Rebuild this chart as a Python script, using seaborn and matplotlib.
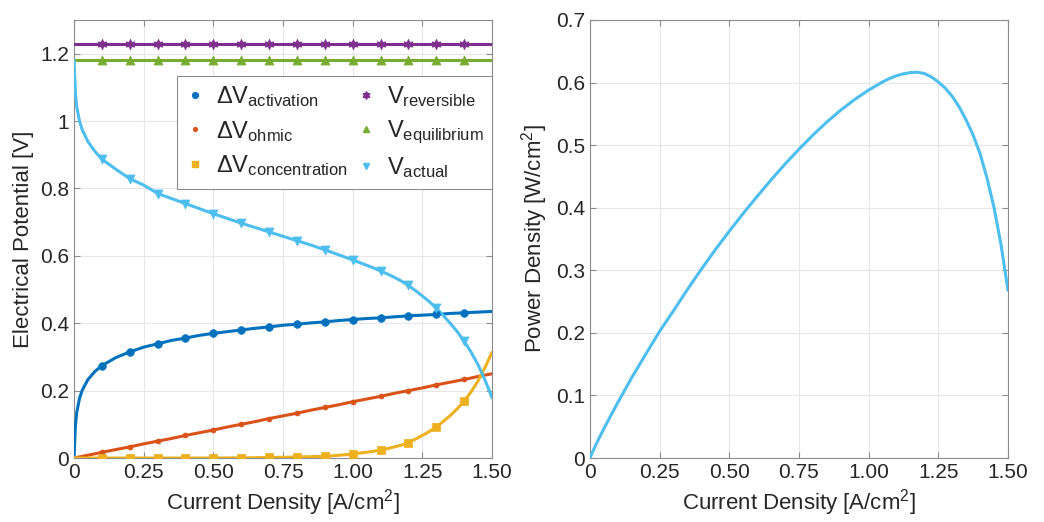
import numpy as np
import pandas as pd
import matplotlib
matplotlib.use("Agg")
import matplotlib.pyplot as plt
from matplotlib.lines import Line2D
import seaborn as sns

# Values
current = [0, 0.002, 0.005, 0.01, 0.02, 0.03, 0.05, 0.075,
           0.1, 0.15, 0.2, 0.25, 0.3, 0.35, 0.4, 0.45, 0.5, 0.55,
           0.6, 0.65, 0.7, 0.75, 0.8, 0.85, 0.9, 0.95, 1.0,
           1.025, 1.05, 1.075, 1.1, 1.125, 1.15, 1.175, 1.2, 1.225, 1.25,
           1.275, 1.3, 1.325, 1.35, 1.375, 1.4, 1.425, 1.45, 1.475, 1.5]
dv_activation = [0, 0.041, 0.096, 0.137, 0.178, 0.202, 0.233, 0.257,
                 0.274, 0.298, 0.315, 0.329, 0.339, 0.349, 0.356, 0.364, 0.370, 0.375,
                 0.380, 0.385, 0.389, 0.394, 0.397, 0.401, 0.404, 0.408, 0.411,
                 0.4125, 0.414, 0.415, 0.416, 0.4175, 0.419, 0.4205, 0.422, 0.423, 0.424,
                 0.425, 0.426, 0.4275, 0.429, 0.430, 0.431, 0.432, 0.433, 0.434, 0.435]
dv_ohmic = [0, 0.0003, 0.0008, 0.0017, 0.0033, 0.005, 0.0083, 0.0125,
            0.017, 0.025, 0.033, 0.042, 0.050, 0.058, 0.067, 0.075, 0.083, 0.092,
            0.100, 0.108, 0.117, 0.125, 0.133, 0.142, 0.150, 0.158, 0.167,
            0.171, 0.175, 0.179, 0.183, 0.1875, 0.192, 0.196, 0.200, 0.204, 0.208,
            0.2125, 0.217, 0.221, 0.225, 0.229, 0.233, 0.2375, 0.242, 0.246, 0.250]
dv_concentration = [0, 0, 0, 0, 0, 0, 0, 0,
                    0, 0, 0, 0, 0, 0, 0, 0, 0, 0.0003,
                    0.0005, 0.001, 0.0015, 0.002, 0.003, 0.004, 0.005, 0.008, 0.012,
                    0.0145, 0.017, 0.020, 0.023, 0.028, 0.033, 0.0385, 0.046, 0.056, 0.067,
                    0.0785, 0.092, 0.1085, 0.126, 0.146, 0.169, 0.1965, 0.229, 0.269, 0.314]
v_actual = [1.18, 1.139, 1.083, 1.041, 0.999, 0.973, 0.939, 0.910,
            0.887, 0.857, 0.829, 0.810, 0.785, 0.770, 0.755, 0.740, 0.725, 0.711,
            0.697, 0.684, 0.671, 0.658, 0.645, 0.632, 0.618, 0.603, 0.588,
            0.580, 0.572, 0.564, 0.555, 0.546, 0.536, 0.525, 0.512, 0.497, 0.481,
            0.464, 0.445, 0.423, 0.400, 0.375, 0.347, 0.314, 0.276, 0.231, 0.179]
power = [0, 0.0023, 0.0054, 0.0104, 0.020, 0.0292, 0.047, 0.068,
         0.0887, 0.1286, 0.1658, 0.2025, 0.2355, 0.2695, 0.302, 0.333, 0.3625, 0.391,
         0.418, 0.4446, 0.4697, 0.4935, 0.516, 0.537, 0.556, 0.573, 0.588,
         0.5945, 0.601, 0.6065, 0.611, 0.614, 0.616, 0.6165, 0.6145, 0.609, 0.601,
         0.591, 0.578, 0.561, 0.540, 0.516, 0.486, 0.447, 0.400, 0.341, 0.268]
v_reversible = 1.23
v_equilibrium = 1.18
marker_x = [0.1, 0.2, 0.3, 0.4, 0.5, 0.6, 0.7, 0.8, 0.9, 1.0, 1.1, 1.2, 1.3, 1.4]

df = pd.DataFrame({"current": current, "act": dv_activation, "ohm": dv_ohmic,
                   "conc": dv_concentration, "actual": v_actual, "power": power})
df["rev"] = v_reversible
df["eq"] = v_equilibrium
marks = df[np.isclose(df["current"].values[:, None], np.array(marker_x)[None, :]).any(axis=1)]

sns.set_style("ticks")
plt.rcParams["font.family"] = ["Liberation Sans", "DejaVu Sans"]
plt.rcParams["mathtext.fontset"] = "custom"
plt.rcParams["mathtext.rm"] = "Liberation Sans"
plt.rcParams["mathtext.it"] = "Liberation Sans"

text_col = "#262626"
edge_col = "#8c8c8c"
# column, legend label, colour, marker, marker size (pt)
series = [
    ("act", r"$\Delta\mathrm{V}_{\mathrm{activation}}$", "#0072BD", "o", 5.5),
    ("ohm", r"$\Delta\mathrm{V}_{\mathrm{ohmic}}$", "#D95319", "o", 3.6),
    ("conc", r"$\Delta\mathrm{V}_{\mathrm{concentration}}$", "#EDB120", "s", 5.2),
    ("rev", r"$\mathrm{V}_{\mathrm{reversible}}$", "#7E2F8E", (6, 1, 0), 7.5),
    ("eq", r"$\mathrm{V}_{\mathrm{equilibrium}}$", "#77AC30", "^", 6.5),
    ("actual", r"$\mathrm{V}_{\mathrm{actual}}$", "#4DBEEE", "v", 6.5),
]

fig = plt.figure(figsize=(10.44, 5.22), dpi=100)
ax1 = fig.add_axes([0.0709, 0.1226, 0.4004, 0.8391])
ax2 = fig.add_axes([0.5651, 0.1226, 0.4004, 0.8391])

handles = []
for col, label, color, marker, size in series:
    sns.lineplot(data=df, x="current", y=col, ax=ax1, color=color, linewidth=2.2,
                 zorder=3)
    sns.scatterplot(data=marks, x="current", y=col, ax=ax1, color=color,
                    marker=marker, s=size ** 2, edgecolor=color, linewidth=0.5,
                    zorder=4)
    handles.append(Line2D([], [], linestyle="none", marker=marker, color=color,
                          markersize=size * 0.75, label=label))

sns.lineplot(data=df, x="current", y="power", ax=ax2, color="#4DBEEE",
             linewidth=2.2, zorder=3)

for ax in (ax1, ax2):
    ax.set_xlim(0, 1.5)
    ax.set_xticks([0, 0.25, 0.5, 0.75, 1.0, 1.25, 1.5])
    ax.set_xticklabels(["0", "0.25", "0.50", "0.75", "1.00", "1.25", "1.50"])
    ax.grid(True, color="#e6e6e6", linewidth=0.8)
    ax.set_axisbelow(True)
    ax.tick_params(direction="in", top=True, right=True, length=4,
                   labelsize=15, colors=text_col, color=edge_col)
    for sp in ax.spines.values():
        sp.set_color(edge_col)
        sp.set_linewidth(0.8)
    ax.set_xlabel(r"Current Density [A/cm$^2$]", fontsize=16, color=text_col,
                  labelpad=4)

ax1.set_ylim(0, 1.3)
ax1.set_yticks([0, 0.2, 0.4, 0.6, 0.8, 1.0, 1.2])
ax1.set_yticklabels(["0", "0.2", "0.4", "0.6", "0.8", "1", "1.2"])
ax1.set_ylabel("Electrical Potential [V]", fontsize=16, color=text_col)

ax2.set_ylim(0, 0.7)
ax2.set_yticks([0, 0.1, 0.2, 0.3, 0.4, 0.5, 0.6, 0.7])
ax2.set_yticklabels(["0", "0.1", "0.2", "0.3", "0.4", "0.5", "0.6", "0.7"])
ax2.set_ylabel(r"Power Density [W/cm$^2$]", fontsize=16, color=text_col)

leg = ax1.legend(handles=handles, ncol=2, loc="upper right",
                 bbox_to_anchor=(1.0, 0.872), borderaxespad=0, fontsize=17,
                 frameon=True, fancybox=False, framealpha=1, edgecolor=edge_col,
                 handlelength=0.8, handletextpad=0.5, columnspacing=0.35,
                 labelspacing=0.4, borderpad=0.35)
leg.get_frame().set_linewidth(0.8)
leg.set_zorder(5)

fig.savefig("out.png", dpi=100)
